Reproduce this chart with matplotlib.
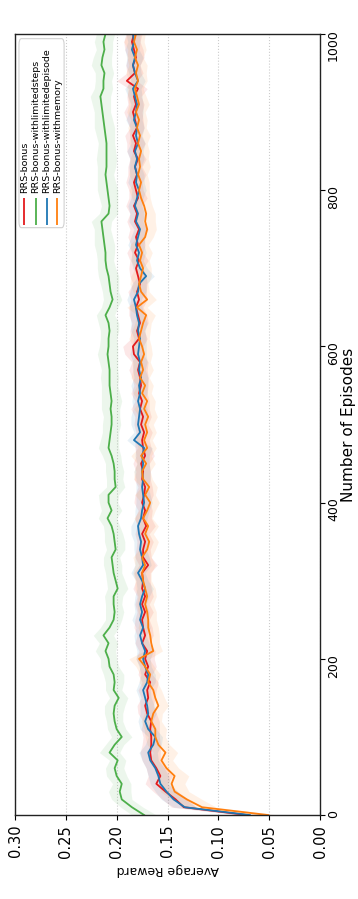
"""
Average reward per episode for the RRS bonus variants.

The plot is laid out sideways: episodes run up the right-hand side and the
reward axis runs along the bottom, decreasing from left to right.
"""

import matplotlib
matplotlib.use('Agg')

import matplotlib.pyplot as plt
from matplotlib.patches import FancyBboxPatch
import numpy as np


EPISODES = list(range(0, 1001, 10))

SERIES_NAMES = [
    'RRS-bonus',
    'RRS-bonus-withlimitedsteps',
    'RRS-bonus-withlimitedepisode',
    'RRS-bonus-withmemory',
]

RRS_BONUS = [
    0.072, 0.134, 0.142, 0.152, 0.161, 0.157, 0.161, 0.166, 0.167, 0.166,
    0.166, 0.167, 0.166, 0.170, 0.172, 0.169, 0.170, 0.167, 0.172, 0.169,
    0.172, 0.170, 0.175, 0.172, 0.174, 0.175, 0.172, 0.175, 0.172, 0.175,
    0.174, 0.175, 0.169, 0.174, 0.174, 0.172, 0.175, 0.171, 0.174, 0.172,
    0.175, 0.173, 0.172, 0.175, 0.174, 0.176, 0.172, 0.174, 0.175, 0.173,
    0.176, 0.174, 0.177, 0.175, 0.178, 0.176, 0.177, 0.179, 0.177, 0.183,
    0.184, 0.178, 0.180, 0.177, 0.179, 0.181, 0.178, 0.180, 0.177, 0.179,
    0.181, 0.178, 0.182, 0.179, 0.181, 0.178, 0.182, 0.180, 0.183, 0.179,
    0.181, 0.183, 0.180, 0.182, 0.179, 0.183, 0.181, 0.184, 0.180, 0.182,
    0.184, 0.181, 0.183, 0.179, 0.190, 0.182, 0.184, 0.181, 0.183, 0.185,
    0.183,
]

RRS_LIMITED_STEPS = [
    0.173, 0.185, 0.195, 0.197, 0.195, 0.200, 0.202, 0.199, 0.207, 0.202,
    0.195, 0.200, 0.202, 0.203, 0.202, 0.198, 0.203, 0.202, 0.203, 0.207,
    0.208, 0.211, 0.208, 0.213, 0.207, 0.203, 0.202, 0.203, 0.203, 0.199,
    0.201, 0.203, 0.204, 0.205, 0.201, 0.202, 0.203, 0.205, 0.209, 0.205,
    0.208, 0.208, 0.201, 0.202, 0.202, 0.203, 0.205, 0.208, 0.207, 0.206,
    0.205, 0.205, 0.206, 0.205, 0.206, 0.207, 0.207, 0.207, 0.208, 0.209,
    0.208, 0.208, 0.207, 0.208, 0.211, 0.207, 0.204, 0.206, 0.207, 0.208,
    0.210, 0.211, 0.211, 0.212, 0.213, 0.214, 0.215, 0.208, 0.207, 0.208,
    0.209, 0.210, 0.211, 0.210, 0.210, 0.210, 0.210, 0.211, 0.212, 0.213,
    0.214, 0.215, 0.216, 0.213, 0.213, 0.212, 0.215, 0.214, 0.212, 0.213,
    0.211,
]

RRS_LIMITED_EPISODE = [
    0.069, 0.133, 0.144, 0.151, 0.157, 0.159, 0.162, 0.167, 0.169, 0.164,
    0.162, 0.169, 0.172, 0.169, 0.170, 0.172, 0.174, 0.170, 0.169, 0.172,
    0.174, 0.172, 0.175, 0.177, 0.174, 0.177, 0.175, 0.177, 0.175, 0.172,
    0.175, 0.179, 0.174, 0.175, 0.177, 0.176, 0.178, 0.179, 0.176, 0.175,
    0.173, 0.174, 0.175, 0.174, 0.175, 0.174, 0.175, 0.173, 0.183, 0.177,
    0.179, 0.178, 0.177, 0.179, 0.177, 0.178, 0.176, 0.178, 0.177, 0.179,
    0.178, 0.177, 0.179, 0.178, 0.180, 0.181, 0.183, 0.179, 0.178, 0.171,
    0.177, 0.180, 0.178, 0.181, 0.179, 0.177, 0.181, 0.179, 0.182, 0.180,
    0.178, 0.181, 0.180, 0.182, 0.180, 0.182, 0.179, 0.181, 0.180, 0.183,
    0.181, 0.180, 0.182, 0.184, 0.179, 0.182, 0.184, 0.182, 0.185, 0.183,
    0.184,
]

RRS_MEMORY = [
    0.051, 0.116, 0.131, 0.143, 0.146, 0.143, 0.151, 0.156, 0.152, 0.159,
    0.162, 0.162, 0.166, 0.164, 0.159, 0.162, 0.164, 0.169, 0.167, 0.172,
    0.178, 0.164, 0.166, 0.167, 0.169, 0.169, 0.170, 0.172, 0.170, 0.172,
    0.174, 0.175, 0.172, 0.175, 0.170, 0.168, 0.172, 0.169, 0.174, 0.170,
    0.167, 0.172, 0.168, 0.174, 0.175, 0.171, 0.176, 0.170, 0.173, 0.170,
    0.172, 0.169, 0.173, 0.170, 0.175, 0.172, 0.177, 0.174, 0.176, 0.173,
    0.175, 0.178, 0.176, 0.174, 0.171, 0.180, 0.170, 0.176, 0.178, 0.176,
    0.174, 0.177, 0.175, 0.178, 0.172, 0.170, 0.172, 0.171, 0.173, 0.176,
    0.178, 0.176, 0.179, 0.177, 0.178, 0.176, 0.179, 0.177, 0.180, 0.178,
    0.181, 0.178, 0.180, 0.182, 0.179, 0.181, 0.179, 0.182, 0.180, 0.183,
    0.181,
]

# spread of each curve over the runs
RRS_BONUS_STD = [
    0.008, 0.012, 0.013, 0.012, 0.011, 0.012, 0.010, 0.009, 0.010, 0.009,
    0.008, 0.009, 0.008, 0.009, 0.008, 0.007, 0.009, 0.008, 0.007, 0.008,
    0.009, 0.008, 0.007, 0.008, 0.009, 0.007, 0.008, 0.007, 0.008, 0.009,
    0.007, 0.008, 0.009, 0.008, 0.007, 0.008, 0.007, 0.009, 0.008, 0.007,
    0.008, 0.009, 0.007, 0.008, 0.007, 0.008, 0.009, 0.008, 0.007, 0.008,
    0.007, 0.008, 0.009, 0.007, 0.008, 0.007, 0.008, 0.009, 0.008, 0.009,
    0.010, 0.008, 0.007, 0.008, 0.009, 0.007, 0.008, 0.009, 0.007, 0.008,
    0.007, 0.009, 0.008, 0.007, 0.008, 0.009, 0.008, 0.007, 0.008, 0.009,
    0.007, 0.008, 0.009, 0.007, 0.008, 0.007, 0.009, 0.008, 0.007, 0.008,
    0.009, 0.008, 0.007, 0.009, 0.010, 0.008, 0.007, 0.008, 0.009, 0.008,
    0.008,
]

RRS_LIMITED_STEPS_STD = [
    0.012, 0.011, 0.010, 0.011, 0.009, 0.010, 0.009, 0.008, 0.010, 0.009,
    0.010, 0.009, 0.008, 0.009, 0.010, 0.009, 0.008, 0.009, 0.010, 0.009,
    0.008, 0.010, 0.009, 0.010, 0.009, 0.008, 0.009, 0.008, 0.009, 0.010,
    0.009, 0.008, 0.009, 0.008, 0.009, 0.010, 0.009, 0.008, 0.009, 0.010,
    0.009, 0.010, 0.009, 0.008, 0.009, 0.008, 0.009, 0.010, 0.009, 0.008,
    0.009, 0.008, 0.009, 0.010, 0.009, 0.008, 0.009, 0.008, 0.009, 0.010,
    0.009, 0.008, 0.009, 0.010, 0.009, 0.008, 0.009, 0.008, 0.009, 0.010,
    0.009, 0.008, 0.009, 0.010, 0.009, 0.008, 0.010, 0.009, 0.008, 0.009,
    0.010, 0.009, 0.008, 0.009, 0.010, 0.009, 0.008, 0.009, 0.010, 0.009,
    0.008, 0.009, 0.010, 0.009, 0.008, 0.009, 0.010, 0.009, 0.008, 0.009,
    0.009,
]

RRS_LIMITED_EPISODE_STD = [
    0.008, 0.011, 0.012, 0.011, 0.010, 0.010, 0.009, 0.008, 0.009, 0.008,
    0.007, 0.008, 0.007, 0.008, 0.007, 0.006, 0.007, 0.008, 0.007, 0.006,
    0.007, 0.008, 0.007, 0.006, 0.007, 0.008, 0.007, 0.006, 0.007, 0.008,
    0.006, 0.007, 0.008, 0.007, 0.006, 0.007, 0.008, 0.007, 0.006, 0.007,
    0.008, 0.007, 0.006, 0.007, 0.008, 0.006, 0.007, 0.008, 0.007, 0.006,
    0.007, 0.008, 0.007, 0.006, 0.007, 0.008, 0.007, 0.006, 0.007, 0.008,
    0.007, 0.006, 0.007, 0.008, 0.007, 0.006, 0.007, 0.008, 0.007, 0.008,
    0.007, 0.006, 0.007, 0.008, 0.007, 0.006, 0.007, 0.008, 0.007, 0.006,
    0.007, 0.008, 0.007, 0.006, 0.007, 0.008, 0.007, 0.006, 0.007, 0.008,
    0.007, 0.006, 0.007, 0.008, 0.007, 0.006, 0.007, 0.008, 0.007, 0.006,
    0.007,
]

RRS_MEMORY_STD = [
    0.010, 0.014, 0.015, 0.014, 0.013, 0.014, 0.012, 0.011, 0.012, 0.011,
    0.010, 0.011, 0.010, 0.009, 0.010, 0.009, 0.008, 0.009, 0.010, 0.009,
    0.010, 0.009, 0.008, 0.009, 0.010, 0.008, 0.009, 0.008, 0.009, 0.010,
    0.008, 0.009, 0.010, 0.009, 0.008, 0.009, 0.008, 0.010, 0.009, 0.008,
    0.009, 0.010, 0.008, 0.009, 0.008, 0.009, 0.010, 0.009, 0.008, 0.009,
    0.008, 0.009, 0.010, 0.008, 0.009, 0.008, 0.009, 0.010, 0.009, 0.008,
    0.009, 0.010, 0.009, 0.008, 0.009, 0.010, 0.009, 0.008, 0.009, 0.010,
    0.008, 0.009, 0.010, 0.009, 0.008, 0.009, 0.010, 0.009, 0.008, 0.009,
    0.010, 0.008, 0.009, 0.010, 0.009, 0.008, 0.009, 0.010, 0.009, 0.008,
    0.009, 0.010, 0.009, 0.008, 0.009, 0.010, 0.009, 0.008, 0.009, 0.010,
    0.009,
]

REWARD_TICKS = [0.00, 0.05, 0.10, 0.15, 0.20, 0.25, 0.30]
EPISODE_TICKS = [0, 200, 400, 600, 800, 1000]

COLORS = ['#e41a1c', '#4daf4a', '#1f77b4', '#ff7f0e']


def draw_curves(axis):
    """Draw each mean curve with its spread band, episodes on the y axis."""
    episodes = np.array(EPISODES)
    means = [RRS_BONUS, RRS_LIMITED_STEPS, RRS_LIMITED_EPISODE, RRS_MEMORY]
    stds = [RRS_BONUS_STD, RRS_LIMITED_STEPS_STD,
            RRS_LIMITED_EPISODE_STD, RRS_MEMORY_STD]

    for mean, std, color in zip(means, stds, COLORS):
        mean = np.array(mean)
        std = np.array(std)
        axis.fill_betweenx(episodes, mean - std, mean + std,
                           color=color, alpha=0.1, linewidth=0)
    for mean, color in zip(means, COLORS):
        axis.plot(mean, episodes, color=color, linewidth=1.3)


def draw_legend(axis):
    """Legend box with vertical handles and upright-rotated labels."""
    frame = FancyBboxPatch(
        (0.013, 0.752), 0.148, 0.242,
        boxstyle='round,pad=0,rounding_size=0.008',
        transform=axis.transAxes, facecolor='white', edgecolor='#cccccc',
        linewidth=0.8, alpha=0.9, zorder=5)
    axis.add_patch(frame)

    columns = [0.0305, 0.0679, 0.1039, 0.1387]
    for x_col, name, color in zip(columns, SERIES_NAMES, COLORS):
        axis.plot([x_col, x_col], [0.7555, 0.7905], color=color,
                  linewidth=1.3, transform=axis.transAxes, zorder=6,
                  solid_capstyle='butt')
        axis.text(x_col, 0.7965, name, rotation=90, fontsize=6.8,
                  ha='center', va='bottom', transform=axis.transAxes,
                  zorder=6)


def main():
    """Build the figure and save it."""
    plt.rcParams['font.family'] = 'DejaVu Sans'

    fig = plt.figure(figsize=(3.58, 8.99), dpi=100)
    axis = fig.add_axes([0.0419, 0.0934, 0.852, 0.8688])

    draw_curves(axis)

    axis.set_xlim(0.30, 0.0)
    axis.set_ylim(0, 1000)
    axis.set_xticks(REWARD_TICKS)
    axis.set_xticklabels([f'{t:.2f}' for t in REWARD_TICKS])
    axis.set_yticks(EPISODE_TICKS)

    axis.yaxis.tick_right()
    axis.yaxis.set_label_position('right')
    axis.tick_params(axis='both', direction='out', length=3.5, width=0.8,
                     labelrotation=90)
    axis.tick_params(axis='x', labelsize=10.5)
    axis.tick_params(axis='y', labelsize=9, pad=1.5)

    axis.set_xlabel('Average Reward', fontsize=9, rotation=180, labelpad=4)
    axis.set_ylabel('Number of Episodes', fontsize=11, rotation=90,
                    labelpad=1)

    axis.xaxis.grid(True, linestyle=':', color='#cccccc', linewidth=0.8)
    axis.set_axisbelow(True)
    for spine in axis.spines.values():
        spine.set_color('#222222')
        spine.set_linewidth(1.0)

    draw_legend(axis)

    fig.savefig('out.png', dpi=100)


if __name__ == '__main__':
    main()
